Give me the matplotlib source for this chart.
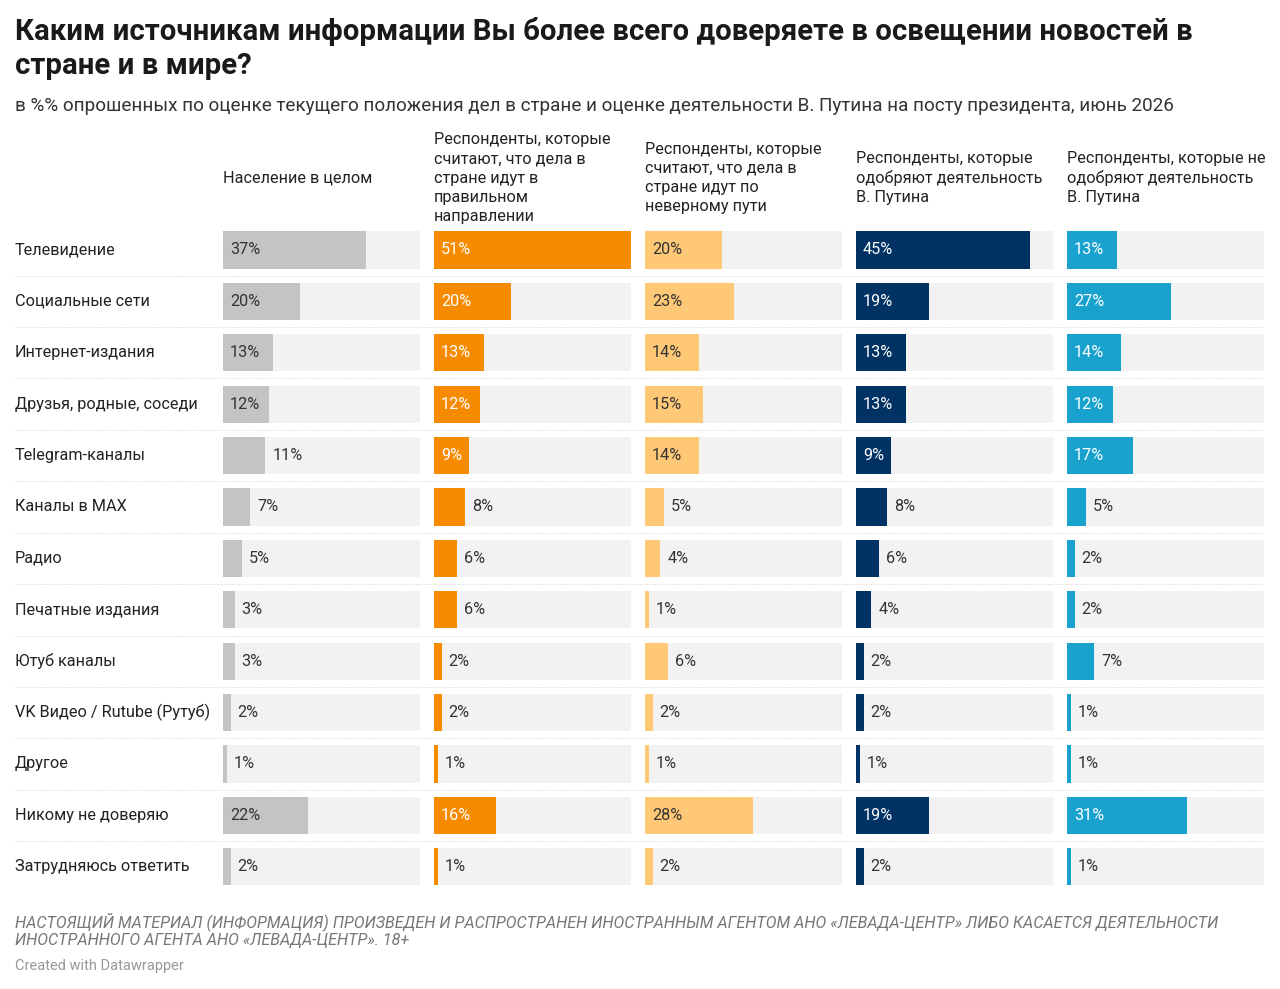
import matplotlib.pyplot as plt

plt.rcParams['font.family'] = ['Roboto', 'DejaVu Sans']

categories = ["Телевидение", "Социальные сети", "Интернет-издания",
              "Друзья, родные, соседи", "Telegram-каналы", "Каналы в MAX",
              "Радио", "Печатные издания", "Ютуб каналы",
              "VK Видео / Rutube (Рутуб)", "Другое", "Никому не доверяю",
              "Затрудняюсь ответить"]
population = [37, 20, 13, 12, 11, 7, 5, 3, 3, 2, 1, 22, 2]
right_way = [51, 20, 13, 12, 9, 8, 6, 6, 2, 2, 1, 16, 1]
wrong_way = [20, 23, 14, 15, 14, 5, 4, 1, 6, 2, 1, 28, 2]
approve = [45, 19, 13, 13, 9, 8, 6, 4, 2, 2, 1, 19, 2]
disapprove = [13, 27, 14, 12, 17, 5, 2, 2, 7, 1, 1, 31, 1]

headers = ["Население в целом",
           "Респонденты, которые\nсчитают, что дела в\nстране идут в\nправильном\nнаправлении",
           "Респонденты, которые\nсчитают, что дела в\nстране идут по\nневерному пути",
           "Респонденты, которые\nодобряют деятельность\nВ. Путина",
           "Респонденты, которые не\nодобряют деятельность\nВ. Путина"]
series = [population, right_way, wrong_way, approve, disapprove]

colors = ["#c4c4c4", "#f68b00", "#ffc877", "#003263", "#1aa2cf"]
inside_colors = ["#333333", "white", "#333333", "white", "white"]
inside_min = [12, 9, 9, 9, 9]
track = "#f2f2f2"
xmax = 51

W, H = 1280, 989
fig = plt.figure(figsize=(W / 100, H / 100), dpi=100)
fig.patch.set_facecolor("white")


def fx(px):
    return px / W


def fy(py):
    return 1 - py / H


n = len(categories)
row_h = 51.4
top = 250 - row_h / 2
bottom = top + row_h * n
fs = 11.7

# background axes for row labels and separators
bg = fig.add_axes([fx(15), fy(bottom), fx(1265) - fx(15), fy(top) - fy(bottom)])
bg.set_xlim(0, 1)
bg.set_ylim(n - 0.5, -0.5)
bg.axis("off")
for k in range(n - 1):
    bg.axhline(k + 0.5, color="#d4d4d4", lw=0.7, ls=(0, (1, 1.5)))
for k, cat in enumerate(categories):
    bg.text(0, k, cat, ha="left", va="center", fontsize=fs, color="#222222")

for i, vals in enumerate(series):
    left = 223 + 211 * i
    ax = fig.add_axes([fx(left), fy(bottom), fx(197), fy(top) - fy(bottom)])
    ax.set_xlim(0, xmax)
    ax.set_ylim(n - 0.5, -0.5)
    ax.axis("off")
    ys = list(range(n))
    ax.barh(ys, [xmax] * n, height=0.72, color=track)
    ax.barh(ys, vals, height=0.72, color=colors[i])
    for y, v in zip(ys, vals):
        if v >= inside_min[i]:
            ax.annotate(f"{v}%", (0, y), xytext=(5, 0), textcoords="offset points",
                        ha="left", va="center", fontsize=fs, color=inside_colors[i])
        else:
            ax.annotate(f"{v}%", (v, y), xytext=(5, 0), textcoords="offset points",
                        ha="left", va="center", fontsize=fs, color="#333333")
    fig.text(fx(left), fy(178), headers[i], ha="left", va="center",
             fontsize=fs, color="#222222", linespacing=1.35)

fig.text(fx(15), fy(31), "Каким источникам информации Вы более всего доверяете в освещении новостей в",
         ha="left", va="center", fontsize=21.2, fontweight="bold", color="#1a1a1a")
fig.text(fx(15), fy(66), "стране и в мире?",
         ha="left", va="center", fontsize=21.2, fontweight="bold", color="#1a1a1a")
fig.text(fx(15), fy(106),
         "в %% опрошенных по оценке текущего положения дел в стране и оценке деятельности В. Путина на посту президента, июнь 2026",
         ha="left", va="center", fontsize=13.6, color="#333333")

fig.text(fx(15), fy(922),
         "НАСТОЯЩИЙ МАТЕРИАЛ (ИНФОРМАЦИЯ) ПРОИЗВЕДЕН И РАСПРОСТРАНЕН ИНОСТРАННЫМ АГЕНТОМ АНО «ЛЕВАДА-ЦЕНТР» ЛИБО КАСАЕТСЯ ДЕЯТЕЛЬНОСТИ",
         ha="left", va="center", fontsize=11.6, style="italic", color="#777777")
fig.text(fx(15), fy(941), "ИНОСТРАННОГО АГЕНТА АНО «ЛЕВАДА-ЦЕНТР». 18+",
         ha="left", va="center", fontsize=11.6, style="italic", color="#777777")
fig.text(fx(15), fy(966), "Created with Datawrapper",
         ha="left", va="center", fontsize=10.5, color="#999999")

fig.savefig("out.png", dpi=100)
